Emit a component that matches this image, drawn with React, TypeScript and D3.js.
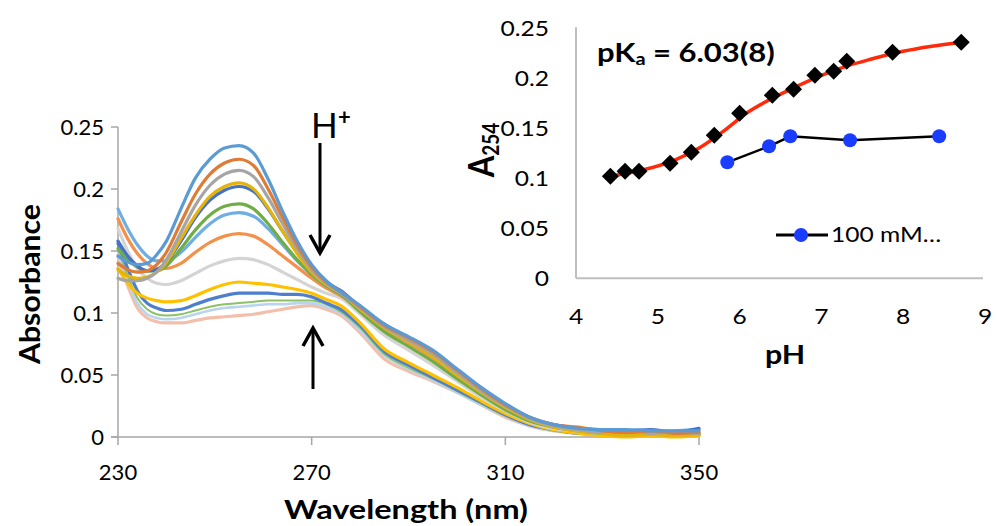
import React from 'react';
import * as d3 from 'd3';

// ---------- main spectra data ----------
const WAVELENGTH = [230, 232, 234, 236, 238, 240, 243, 246, 249, 252, 255, 258, 261, 264, 267, 270, 273, 276, 280, 285, 290, 295, 300, 305, 310, 315, 320, 325, 330, 335, 340, 345, 350];

const SPEC_01 = [0.146, 0.141, 0.139, 0.140, 0.147, 0.158, 0.184, 0.209, 0.224, 0.233, 0.235, 0.229, 0.208, 0.182, 0.158, 0.139, 0.126, 0.117, 0.106, 0.091, 0.081, 0.070, 0.055, 0.040, 0.027, 0.016, 0.010, 0.007, 0.006, 0.006, 0.005, 0.005, 0.005];
const SPEC_02 = [0.140, 0.135, 0.133, 0.134, 0.139, 0.149, 0.173, 0.196, 0.212, 0.221, 0.224, 0.219, 0.200, 0.177, 0.155, 0.137, 0.125, 0.117, 0.105, 0.090, 0.080, 0.069, 0.054, 0.039, 0.026, 0.016, 0.010, 0.008, 0.005, 0.004, 0.005, 0.003, 0.004];
const SPEC_03 = [0.128, 0.126, 0.126, 0.128, 0.133, 0.143, 0.165, 0.187, 0.203, 0.212, 0.215, 0.210, 0.193, 0.172, 0.152, 0.135, 0.124, 0.116, 0.104, 0.089, 0.078, 0.067, 0.052, 0.037, 0.025, 0.015, 0.009, 0.006, 0.004, 0.005, 0.003, 0.004, 0.003];
const SPEC_04 = [0.135, 0.130, 0.128, 0.129, 0.133, 0.141, 0.160, 0.179, 0.194, 0.202, 0.205, 0.200, 0.185, 0.166, 0.148, 0.133, 0.123, 0.116, 0.103, 0.088, 0.077, 0.065, 0.050, 0.036, 0.024, 0.014, 0.008, 0.005, 0.003, 0.001, 0.002, 0.001, 0.002];
const SPEC_05 = [0.158, 0.146, 0.138, 0.134, 0.135, 0.141, 0.158, 0.177, 0.191, 0.199, 0.202, 0.198, 0.184, 0.166, 0.149, 0.135, 0.125, 0.118, 0.105, 0.091, 0.080, 0.069, 0.054, 0.039, 0.026, 0.016, 0.010, 0.007, 0.006, 0.005, 0.006, 0.004, 0.007];
const SPEC_06 = [0.152, 0.143, 0.137, 0.134, 0.134, 0.138, 0.152, 0.167, 0.179, 0.186, 0.188, 0.184, 0.172, 0.157, 0.143, 0.131, 0.122, 0.115, 0.101, 0.085, 0.073, 0.061, 0.047, 0.034, 0.022, 0.013, 0.008, 0.005, 0.003, 0.002, 0.002, 0.003, 0.002];
const SPEC_07 = [0.184, 0.168, 0.155, 0.146, 0.142, 0.142, 0.149, 0.161, 0.172, 0.179, 0.181, 0.178, 0.168, 0.155, 0.142, 0.131, 0.122, 0.116, 0.104, 0.089, 0.079, 0.067, 0.052, 0.038, 0.025, 0.015, 0.009, 0.006, 0.005, 0.005, 0.004, 0.005, 0.006];
const SPEC_08 = [0.176, 0.160, 0.148, 0.140, 0.136, 0.136, 0.140, 0.149, 0.157, 0.162, 0.164, 0.162, 0.155, 0.146, 0.137, 0.128, 0.120, 0.114, 0.102, 0.087, 0.076, 0.064, 0.050, 0.036, 0.024, 0.014, 0.008, 0.006, 0.004, 0.004, 0.003, 0.002, 0.003];
const SPEC_09 = [0.168, 0.150, 0.136, 0.128, 0.124, 0.123, 0.126, 0.132, 0.138, 0.142, 0.144, 0.143, 0.139, 0.133, 0.127, 0.121, 0.116, 0.112, 0.099, 0.082, 0.070, 0.058, 0.045, 0.032, 0.021, 0.012, 0.007, 0.005, 0.003, 0.003, 0.002, 0.002, 0.003];
const SPEC_10 = [0.136, 0.124, 0.116, 0.112, 0.110, 0.109, 0.110, 0.114, 0.119, 0.123, 0.125, 0.124, 0.123, 0.121, 0.119, 0.116, 0.111, 0.106, 0.092, 0.071, 0.060, 0.050, 0.040, 0.029, 0.019, 0.011, 0.006, 0.003, 0.001, 0.000, 0.001, 0.000, 0.001];
const SPEC_11 = [0.156, 0.136, 0.118, 0.108, 0.104, 0.102, 0.103, 0.107, 0.111, 0.114, 0.116, 0.116, 0.116, 0.115, 0.115, 0.113, 0.108, 0.103, 0.090, 0.069, 0.058, 0.048, 0.038, 0.028, 0.018, 0.010, 0.006, 0.003, 0.002, 0.001, 0.002, 0.001, 0.002];
const SPEC_12 = [0.152, 0.130, 0.112, 0.103, 0.099, 0.098, 0.099, 0.102, 0.105, 0.107, 0.108, 0.109, 0.110, 0.110, 0.110, 0.110, 0.107, 0.101, 0.088, 0.067, 0.056, 0.047, 0.037, 0.027, 0.017, 0.010, 0.005, 0.003, 0.002, 0.001, 0.001, 0.002, 0.001];
const SPEC_13 = [0.148, 0.126, 0.108, 0.099, 0.096, 0.095, 0.096, 0.099, 0.102, 0.104, 0.105, 0.106, 0.107, 0.107, 0.108, 0.108, 0.105, 0.100, 0.086, 0.066, 0.055, 0.046, 0.036, 0.026, 0.017, 0.009, 0.005, 0.003, 0.002, 0.002, 0.001, 0.001, 0.002];
const SPEC_14 = [0.145, 0.122, 0.104, 0.096, 0.093, 0.092, 0.092, 0.094, 0.096, 0.097, 0.098, 0.099, 0.101, 0.103, 0.105, 0.106, 0.103, 0.098, 0.084, 0.063, 0.053, 0.045, 0.036, 0.026, 0.016, 0.009, 0.005, 0.003, 0.002, 0.001, 0.001, 0.001, 0.001];

const SPECTRA = [SPEC_01, SPEC_02, SPEC_03, SPEC_04, SPEC_05, SPEC_06, SPEC_07, SPEC_08, SPEC_09, SPEC_10, SPEC_11, SPEC_12, SPEC_13, SPEC_14];
const SPEC_COLORS = ['#5B9BD5', '#DE7B36', '#A5A5A5', '#E5B30E', '#4472C4', '#70AD47', '#6FAEE2', '#F3914A', '#D4D4D4', '#FFC000', '#4E7FCF', '#8CC168', '#B9D4EE', '#F3BFAA'];
const SPEC_WIDTHS = [3.2, 3.2, 3.2, 3.2, 3.2, 3.2, 3.2, 3.2, 3.2, 3.2, 3.2, 2, 2.6, 3.2];

const ABS_TICKS = [0, 0.05, 0.1, 0.15, 0.2, 0.25];
const WL_TICKS = [230, 270, 310, 350];

// ---------- inset data ----------
const PH_TICKS = [4, 5, 6, 7, 8, 9];
const A254_TICKS = [0, 0.05, 0.1, 0.15, 0.2, 0.25];
const PH_TITRATION = [4.42, 4.60, 4.77, 5.15, 5.41, 5.69, 6.00, 6.40, 6.66, 6.92, 7.15, 7.31, 7.87, 8.71];
const A254_TITRATION = [0.102, 0.107, 0.107, 0.115, 0.126, 0.143, 0.165, 0.183, 0.189, 0.203, 0.207, 0.217, 0.226, 0.236];
const PH_FIT = [4.42, 4.8, 5.2, 5.5, 5.8, 6.1, 6.4, 6.7, 7.0, 7.3, 7.6, 8.0, 8.35, 8.71];
const A254_FIT = [0.102, 0.108, 0.118, 0.130, 0.147, 0.166, 0.180, 0.192, 0.203, 0.212, 0.219, 0.227, 0.232, 0.236];
const PH_BUFFER = [5.85, 6.36, 6.62, 7.35, 8.44];
const A254_BUFFER = [0.116, 0.132, 0.142, 0.138, 0.142];

const FONT = 'Lato, "Open Sans", "Noto Sans", sans-serif';
const SX = 1.17;

function SText({ x, y, size, weight = 400, anchor = 'start', children }: any) {
  return (
    <text transform={`translate(${x},${y}) scale(${SX},1)`} fontSize={size} fontWeight={weight} textAnchor={anchor} fontFamily={FONT} fill="#000">
      {children}
    </text>
  );
}

export default function App() {
  const xMain = d3.scaleLinear().domain([230, 350]).range([118, 699]);
  const yMain = d3.scaleLinear().domain([0, 0.25]).range([437, 127]);
  const xIn = d3.scaleLinear().domain([4, 9]).range([576, 985]);
  const yIn = d3.scaleLinear().domain([0, 0.25]).range([278.3, 28.3]);

  const specLine = d3.line<number>()
    .x((_, i) => xMain(WAVELENGTH[i]))
    .y((v) => yMain(v))
    .curve(d3.curveMonotoneX);

  const fitLine = d3.line<number>()
    .x((_, i) => xIn(PH_FIT[i]))
    .y((v) => yIn(v))
    .curve(d3.curveMonotoneX);

  const bufLine = d3.line<number>()
    .x((_, i) => xIn(PH_BUFFER[i]))
    .y((v) => yIn(v));

  const axisColor = '#A6A6A6';
  const order = SPECTRA.map((_, i) => i).reverse();

  return (
    <svg width={997} height={526} style={{ position: 'absolute', left: 0, top: 0, background: '#fff' }} fontFamily={FONT}>
      <rect x={0} y={0} width={997} height={526} fill="#fff" />
      {/* main axes */}
      <line x1={xMain(230)} x2={xMain(230)} y1={yMain(0.25)} y2={yMain(0)} stroke={axisColor} strokeWidth={1.5} />
      <line x1={xMain(230) - 7} x2={xMain(350)} y1={yMain(0)} y2={yMain(0)} stroke={axisColor} strokeWidth={1.5} />
      {ABS_TICKS.map((t) => (
        <g key={'yt' + t}>
          <line x1={xMain(230) - 7} x2={xMain(230)} y1={yMain(t)} y2={yMain(t)} stroke={axisColor} strokeWidth={1.5} />
          <text x={104} y={yMain(t) + 7.8} textAnchor="end" fontSize={22} fill="#000">{String(t)}</text>
        </g>
      ))}
      {WL_TICKS.map((t) => (
        <g key={'xt' + t}>
          <line x1={xMain(t)} x2={xMain(t)} y1={yMain(0)} y2={yMain(0) + 8} stroke={axisColor} strokeWidth={1.5} />
          <text x={xMain(t)} y={479.5} textAnchor="middle" fontSize={22} fill="#000">{String(t)}</text>
        </g>
      ))}
      <text x={406} y={519} textAnchor="middle" fontSize={27} fontWeight={700} textLength={244} lengthAdjust="spacingAndGlyphs">Wavelength (nm)</text>
      <text transform="translate(40,284) rotate(-90)" textAnchor="middle" fontSize={28} fontWeight={700} textLength={160} lengthAdjust="spacingAndGlyphs">Absorbance</text>

      {/* spectra */}
      {order.map((i) => (
        <path key={'s' + i} d={specLine(SPECTRA[i]) || ''} fill="none" stroke={SPEC_COLORS[i]} strokeWidth={SPEC_WIDTHS[i]} strokeLinejoin="round" strokeLinecap="round" />
      ))}

      {/* annotations */}
      <text x={311} y={138} fontSize={35} fill="#000">H</text>
      <text x={338} y={125} fontSize={22} fontWeight={700} fill="#000">+</text>
      <line x1={320} x2={320} y1={143} y2={252} stroke="#000" strokeWidth={3} />
      <polyline points="310,235 320,253 330,235" fill="none" stroke="#000" strokeWidth={3.5} />
      <line x1={313} x2={313} y1={329} y2={389} stroke="#000" strokeWidth={3} />
      <polyline points="303,346 313,328 323,346" fill="none" stroke="#000" strokeWidth={3.5} />

      {/* inset axes */}
      <line x1={xIn(4)} x2={xIn(4)} y1={yIn(0.25) - 1} y2={yIn(0)} stroke="#BFBFBF" strokeWidth={2} />
      <line x1={xIn(4)} x2={xIn(9) - 2} y1={yIn(0)} y2={yIn(0)} stroke="#BFBFBF" strokeWidth={2} />
      {A254_TICKS.map((t) => (
        <SText key={'iy' + t} x={549} y={yIn(t) + 7.5} size={21} anchor="end">{String(t)}</SText>
      ))}
      {PH_TICKS.map((t) => (
        <SText key={'ix' + t} x={xIn(t)} y={323.5} size={21} anchor="middle">{String(t)}</SText>
      ))}
      <SText x={785} y={364} size={26} weight={700} anchor="middle">pH</SText>
      <g transform={`translate(494,150) scale(${SX},1) rotate(-90)`}>
        <text textAnchor="middle" fontFamily={FONT} fontWeight={700} fill="#000">
          <tspan fontSize={31}>A</tspan>
          <tspan fontSize={19} dy={4}>254</tspan>
        </text>
      </g>
      <SText x={597} y={62} size={26.5} weight={700}>
        <tspan>pK</tspan>
        <tspan fontSize={17} dy={3}>a</tspan>
        <tspan dy={-3}> = 6.03(8)</tspan>
      </SText>

      {/* inset series */}
      <path d={fitLine(A254_FIT) || ''} fill="none" stroke="#FF2A0A" strokeWidth={3.5} strokeLinecap="round" />
      {PH_TITRATION.map((p, i) => {
        const cx = xIn(p);
        const cy = yIn(A254_TITRATION[i]);
        const r = 8.5;
        return <polygon key={'d' + i} points={`${cx},${cy - r} ${cx + r},${cy} ${cx},${cy + r} ${cx - r},${cy}`} fill="#000" />;
      })}
      <path d={bufLine(A254_BUFFER) || ''} fill="none" stroke="#000" strokeWidth={2.5} />
      {PH_BUFFER.map((p, i) => (
        <circle key={'b' + i} cx={xIn(p)} cy={yIn(A254_BUFFER[i])} r={7} fill="#1A3CFF" />
      ))}

      {/* legend */}
      <line x1={776} x2={828} y1={235} y2={235} stroke="#000" strokeWidth={3} />
      <circle cx={801} cy={235} r={7} fill="#1A3CFF" />
      <SText x={831} y={242} size={21}>100 mM…</SText>
    </svg>
  );
}
